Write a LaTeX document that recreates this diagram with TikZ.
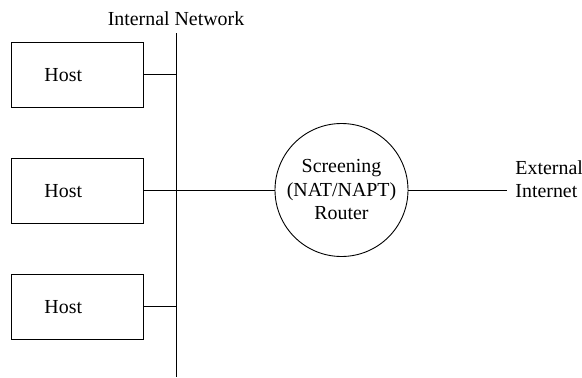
\documentclass[tikz,border=0pt]{standalone}
\usepackage{fontspec}
\setmainfont{Liberation Serif}
\begin{document}
\begin{tikzpicture}[x=1pt,y=-1pt,
  font=\fontsize{19.9}{23.5}\selectfont,
  line width=0.9pt,
  hostbox/.style={draw, rectangle, minimum width=132.3pt, minimum height=65.3pt,
    text width=65.7pt, align=left, inner xsep=33.3pt, inner ysep=0pt, anchor=north west},
  routerc/.style={draw, circle, minimum size=133pt, inner sep=0pt, align=center},
  lbl/.style={inner sep=0pt, anchor=base west}]
\useasboundingbox (0,0) rectangle (582,378);
% hosts
\node[hostbox] (h1) at (10.7,41.7) {Host};
\node[hostbox] (h2) at (10.7,157.5) {Host};
\node[hostbox] (h3) at (10.7,273.5) {Host};
% bus
\coordinate (busTop) at (176,33);
\coordinate (busBot) at (176,377);
\draw (busTop) -- (busBot);
\node[inner sep=0pt, anchor=base] (net) at (176,25) {Internal Network};
% host connectors
\draw (h1.east) -- (h1.east -| busTop);
\draw (h2.east) -- (h2.east -| busTop);
\draw (h3.east) -- (h3.east -| busTop);
% router
\node[routerc] (r) at (341.5,190) {Screening\\(NAT/NAPT)\\Router};
\draw (r.west -| busTop) -- (r.west);
\coordinate (ext) at (507,190);
\draw (r.east) -- (ext);
\node[lbl] (ext1) at (515,174) {External};
\node[lbl] (ext2) at (515,197) {Internet};
\end{tikzpicture}
\end{document}
